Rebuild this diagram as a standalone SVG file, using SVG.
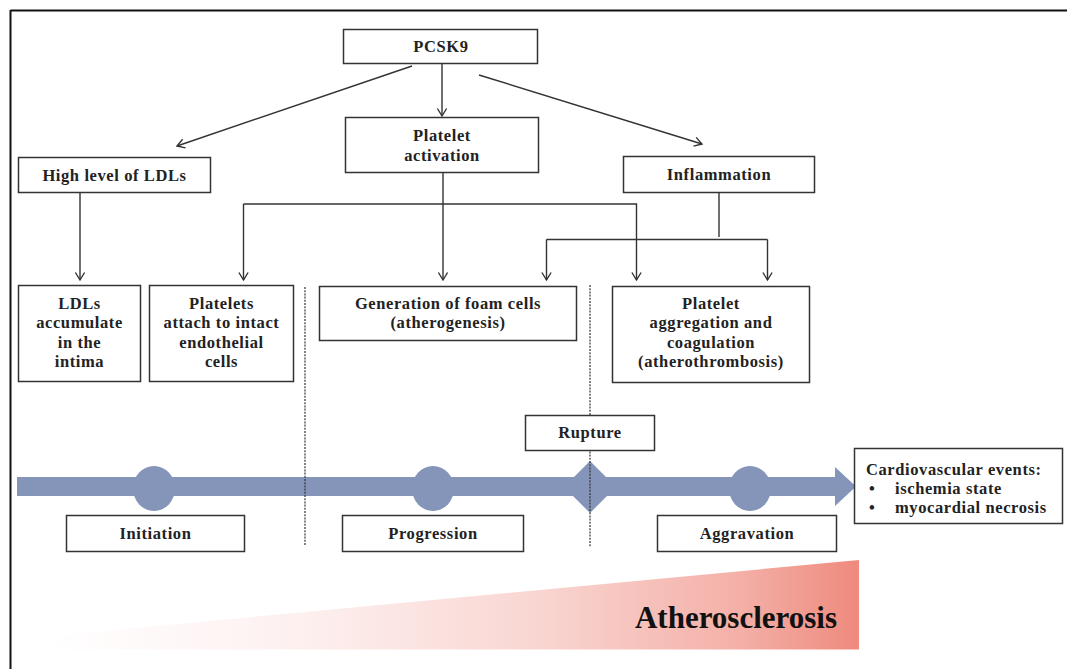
<svg xmlns="http://www.w3.org/2000/svg" width="1067" height="669" viewBox="0 0 1067 669">
<defs>
<style>
.box{fill:#fff;stroke:#333;stroke-width:1.5}
.t{font-family:"Liberation Serif","Times New Roman",serif;font-weight:bold;font-size:16.5px;fill:#222;text-anchor:middle;letter-spacing:0.6px}
.tl{text-anchor:start}
.c{fill:none;stroke:#333;stroke-width:1.4}
.dot{fill:none;stroke:#333;stroke-width:1.2;stroke-dasharray:2 1.2}
.bar{fill:#8495b9}
</style>
<marker id="arr" markerUnits="userSpaceOnUse" markerWidth="14" markerHeight="14" viewBox="-9 -7 11 14" refX="0" refY="0" orient="auto">
<path d="M-7.5,-4.6 L0,0 L-7.5,4.6" fill="none" stroke="#333" stroke-width="1.4"/>
</marker>
<linearGradient id="grad" x1="50" y1="0" x2="859" y2="0" gradientUnits="userSpaceOnUse">
<stop offset="0" stop-color="#fdf0ef" stop-opacity="0"/>
<stop offset="0.3" stop-color="#fdf1f0"/>
<stop offset="0.6" stop-color="#f9d6d2"/>
<stop offset="0.85" stop-color="#f4b0a8"/>
<stop offset="1" stop-color="#ef8a7d"/>
</linearGradient>
</defs>
<rect width="1067" height="669" fill="#fff"/>
<g id="frame">
<line x1="10.5" y1="10.5" x2="1067" y2="10.5" stroke="#111" stroke-width="2"/>
<line x1="10.5" y1="10" x2="10.5" y2="669" stroke="#111" stroke-width="2"/>
</g>
<g id="atherosclerosis">
<polygon points="50,649.5 859,649.5 859,560 50,636" fill="url(#grad)"/>
<text x="837" y="628" style="font-family:'Liberation Serif','Times New Roman',serif;font-weight:bold;font-size:31px;fill:#111;text-anchor:end">Atherosclerosis</text>
</g>
<g id="timeline">
<rect class="bar" x="17" y="477" width="818" height="19"/>
<polygon class="bar" points="835,467 856,486.5 835,506"/>
<ellipse class="bar" cx="154" cy="488.5" rx="21" ry="22.5"/>
<ellipse class="bar" cx="433" cy="488.5" rx="21" ry="22.5"/>
<ellipse class="bar" cx="750" cy="488.5" rx="21" ry="22.5"/>
<polygon class="bar" points="590,461 616,487 590,513 564,487"/>
</g>
<g id="dividers">
<line class="dot" x1="305" y1="287" x2="305" y2="546"/>
<line class="dot" x1="590" y1="285" x2="590" y2="547"/>
</g>
<g id="connectors">
<line class="c" x1="412" y1="66" x2="177" y2="146" marker-end="url(#arr)"/>
<line class="c" x1="442" y1="64" x2="442" y2="116" marker-end="url(#arr)"/>
<line class="c" x1="479" y1="75" x2="702" y2="144" marker-end="url(#arr)"/>
<line class="c" x1="80" y1="193" x2="80" y2="280" marker-end="url(#arr)"/>
<line class="c" x1="443" y1="173" x2="443" y2="280" marker-end="url(#arr)"/>
<path class="c" d="M243.5,204 V280" marker-end="url(#arr)"/>
<path class="c" d="M243.5,204 H636.5 V280" marker-end="url(#arr)"/>
<line class="c" x1="719" y1="193" x2="719" y2="237"/>
<path class="c" d="M546.5,239.5 H767.5"/>
<path class="c" d="M546.5,239.5 V280" marker-end="url(#arr)"/>
<path class="c" d="M767.5,239.5 V280" marker-end="url(#arr)"/>
</g>
<g id="pcsk9">
<rect class="box" x="343.5" y="29.5" width="194" height="34"/>
<text class="t" x="441" y="52">PCSK9</text>
</g>
<g id="platelet-activation">
<rect class="box" x="345.5" y="117.5" width="193" height="55"/>
<text class="t" x="442" y="141">Platelet</text>
<text class="t" x="442" y="160.5">activation</text>
</g>
<g id="high-ldl">
<rect class="box" x="18.5" y="157.5" width="192" height="35"/>
<text class="t" x="114.5" y="181">High level of LDLs</text>
</g>
<g id="inflammation">
<rect class="box" x="623.5" y="156.5" width="191" height="36"/>
<text class="t" x="719" y="180">Inflammation</text>
</g>
<g id="ldl-accumulate">
<rect class="box" x="18.5" y="285.5" width="122" height="96"/>
<text class="t" x="79.5" y="308.5">LDLs</text>
<text class="t" x="79.5" y="328">accumulate</text>
<text class="t" x="79.5" y="347.5">in the</text>
<text class="t" x="79.5" y="367">intima</text>
</g>
<g id="platelets-attach">
<rect class="box" x="149.5" y="285.5" width="144" height="96"/>
<text class="t" x="221.5" y="308.5">Platelets</text>
<text class="t" x="221.5" y="328">attach to intact</text>
<text class="t" x="221.5" y="347.5">endothelial</text>
<text class="t" x="221.5" y="367">cells</text>
</g>
<g id="foam-cells">
<rect class="box" x="319.5" y="286.5" width="257" height="54"/>
<text class="t" x="448" y="308.5">Generation of foam cells</text>
<text class="t" x="448" y="328">(atherogenesis)</text>
</g>
<g id="platelet-aggregation">
<rect class="box" x="612.5" y="286.5" width="197" height="96"/>
<text class="t" x="711" y="308.5">Platelet</text>
<text class="t" x="711" y="328">aggregation and</text>
<text class="t" x="711" y="347.5">coagulation</text>
<text class="t" x="711" y="367">(atherothrombosis)</text>
</g>
<g id="rupture">
<rect class="box" x="525.5" y="415.5" width="129" height="35"/>
<text class="t" x="590" y="438">Rupture</text>
</g>
<g id="initiation">
<rect class="box" x="66.5" y="515.5" width="178" height="36"/>
<text class="t" x="155.5" y="538.5">Initiation</text>
</g>
<g id="progression">
<rect class="box" x="342.5" y="515.5" width="181" height="36"/>
<text class="t" x="433" y="538.5">Progression</text>
</g>
<g id="aggravation">
<rect class="box" x="657.5" y="515.5" width="179" height="36"/>
<text class="t" x="747" y="538.5">Aggravation</text>
</g>
<g id="cardiovascular">
<rect class="box" x="854.5" y="448.5" width="208" height="75"/>
<text class="t tl" x="866" y="475">Cardiovascular events:</text>
<text class="t tl" x="869" y="494">•</text>
<text class="t tl" x="895" y="494">ischemia state</text>
<text class="t tl" x="869" y="513">•</text>
<text class="t tl" x="895" y="513">myocardial necrosis</text>
</g>
</svg>
